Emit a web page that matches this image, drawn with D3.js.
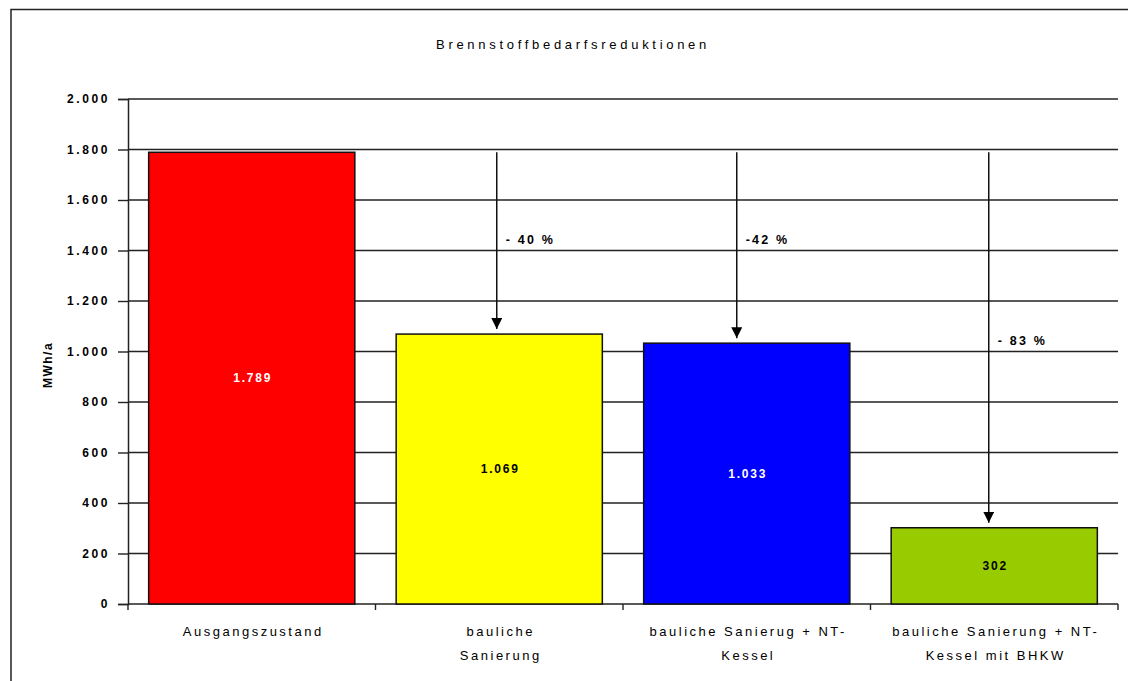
<!DOCTYPE html>
<html>
<head>
<meta charset="utf-8">
<script src="https://cdn.jsdelivr.net/npm/d3@7/dist/d3.min.js"></script>
<style>
  html, body { margin: 0; padding: 0; background: #fff; }
  svg text { font-family: "Liberation Sans", Arial, sans-serif; }
</style>
</head>
<body>
<svg id="chart" width="1128" height="681"></svg>
<script>
// Fuel demand per scenario (MWh/a)
const categories = [
  ["Ausgangszustand"],
  ["bauliche", "Sanierung"],
  ["bauliche Sanierug + NT-", "Kessel"],
  ["bauliche Sanierung + NT-", "Kessel mit BHKW"]
];
const values = [1789, 1069, 1033, 302];
const barColors = ["#ff0000", "#ffff00", "#0000ff", "#99cc00"];
const labelColors = ["#ffffff", "#000000", "#ffffff", "#000000"];
const yTicks = [0, 200, 400, 600, 800, 1000, 1200, 1400, 1600, 1800, 2000];
const title = "Brennstoffbedarfsreduktionen";
const yTitle = "MWh/a";

const svg = d3.select("#chart");

// outer chart frame
svg.append("rect")
  .attr("x", 11).attr("y", 9.5)
  .attr("width", 1140).attr("height", 700)
  .attr("fill", "#fff").attr("stroke", "#222").attr("stroke-width", 1.5);

const plot = { left: 128, right: 1118, top: 99, bottom: 604 };

const x = d3.scaleBand()
  .domain(d3.range(values.length))
  .range([plot.left, plot.right])
  .paddingInner(0.167)
  .paddingOuter(0.0835);

const y = d3.scaleLinear().domain([0, 2000]).range([plot.bottom, plot.top]);

const fmt = d3.formatLocale({ decimal: ",", thousands: ".", grouping: [3], currency: ["", " €"] }).format(",d");

// gridlines
svg.append("g")
  .selectAll("line")
  .data(yTicks.filter(d => d > 0))
  .join("line")
  .attr("x1", plot.left).attr("x2", plot.right)
  .attr("y1", d => y(d)).attr("y2", d => y(d))
  .attr("stroke", "#222").attr("stroke-width", 1.4);

// y axis
const yAxis = svg.append("g")
  .attr("transform", `translate(${plot.left},0)`)
  .call(d3.axisLeft(y).tickValues(yTicks).tickFormat(fmt).tickSize(10).tickPadding(8));
yAxis.select(".domain").attr("stroke", "#222").attr("stroke-width", 1.5);
yAxis.selectAll(".tick line").attr("stroke", "#222").attr("stroke-width", 1.4);
yAxis.selectAll(".tick text")
  .attr("font-size", 12).attr("font-weight", "bold").attr("fill", "#000")
  .attr("letter-spacing", "2.6px");

// x axis with ticks at category boundaries
const step = x.step();
const boundaries = d3.range(values.length + 1).map(i => plot.left + i * step);
svg.append("line")
  .attr("x1", plot.left).attr("x2", plot.right)
  .attr("y1", plot.bottom).attr("y2", plot.bottom)
  .attr("stroke", "#222").attr("stroke-width", 1.5);
svg.append("g").selectAll("line")
  .data(boundaries)
  .join("line")
  .attr("x1", d => d).attr("x2", d => d)
  .attr("y1", plot.bottom).attr("y2", plot.bottom + 6)
  .attr("stroke", "#222").attr("stroke-width", 1.4);

// bars
svg.append("g").selectAll("rect")
  .data(values)
  .join("rect")
  .attr("x", (d, i) => x(i))
  .attr("width", x.bandwidth())
  .attr("y", d => y(d))
  .attr("height", d => y(0) - y(d))
  .attr("fill", (d, i) => barColors[i])
  .attr("stroke", "#111").attr("stroke-width", 1.5);

// value labels centred in bars
svg.append("g").selectAll("text")
  .data(values)
  .join("text")
  .attr("x", (d, i) => x(i) + x.bandwidth() / 2 + 1)
  .attr("y", d => (y(d) + y(0)) / 2)
  .attr("dy", "0.35em")
  .attr("text-anchor", "middle")
  .attr("font-size", 12).attr("font-weight", "bold")
  .attr("letter-spacing", "1.8px")
  .attr("fill", (d, i) => labelColors[i])
  .text(d => fmt(d));

// category labels
const catG = svg.append("g");
categories.forEach((lines, i) => {
  const cx = x(i) + x.bandwidth() / 2 + 1.5;
  const t = catG.append("text")
    .attr("x", cx)
    .attr("y", 636)
    .attr("text-anchor", "middle")
    .attr("font-size", 13).attr("fill", "#000")
    .attr("letter-spacing", "2.5px");
  lines.forEach((s, k) => {
    t.append("tspan")
      .attr("x", cx)
      .attr("dy", k === 0 ? 0 : 24)
      .text(s);
  });
});

// reduction arrows from the baseline level down to each scenario
svg.append("defs").append("marker")
  .attr("id", "arrowhead")
  .attr("viewBox", "0 0 10 10")
  .attr("refX", 10).attr("refY", 5)
  .attr("markerWidth", 11).attr("markerHeight", 11)
  .attr("markerUnits", "userSpaceOnUse")
  .attr("orient", "auto")
  .append("path")
  .attr("d", "M0,0 L10,5 L0,10 Z")
  .attr("fill", "#000");

const base = values[0];
const arrowShift = [0, -2.5, -10, -5.5];
const labelLevel = [0, 1400, 1400, 1000];
const arrowG = svg.append("g");
values.slice(1).forEach((v, j) => {
  const i = j + 1;
  const ax = x(i) + x.bandwidth() / 2 + arrowShift[i];
  arrowG.append("line")
    .attr("x1", ax).attr("x2", ax)
    .attr("y1", y(base)).attr("y2", y(v) - 5)
    .attr("stroke", "#111").attr("stroke-width", 1.5)
    .attr("marker-end", "url(#arrowhead)");
  const pct = Math.round((v / base - 1) * 100);
  arrowG.append("text")
    .attr("x", ax + 9)
    .attr("y", y(labelLevel[i]) - 7)
    .attr("font-size", 12.5).attr("font-weight", "bold").attr("fill", "#000")
    .attr("letter-spacing", "2.2px")
    .text((i === 2 ? "-" : "- ") + Math.abs(pct) + " %");
});

// title
svg.append("text")
  .attr("x", 573).attr("y", 49)
  .attr("text-anchor", "middle")
  .attr("font-size", 13).attr("fill", "#000")
  .attr("letter-spacing", "3.7px")
  .text(title);

// y axis title
svg.append("text")
  .attr("transform", `translate(52,365) rotate(-90)`)
  .attr("text-anchor", "middle")
  .attr("font-size", 12).attr("font-weight", "bold").attr("fill", "#000")
  .attr("letter-spacing", "1.5px")
  .text(yTitle);
</script>
</body>
</html>
